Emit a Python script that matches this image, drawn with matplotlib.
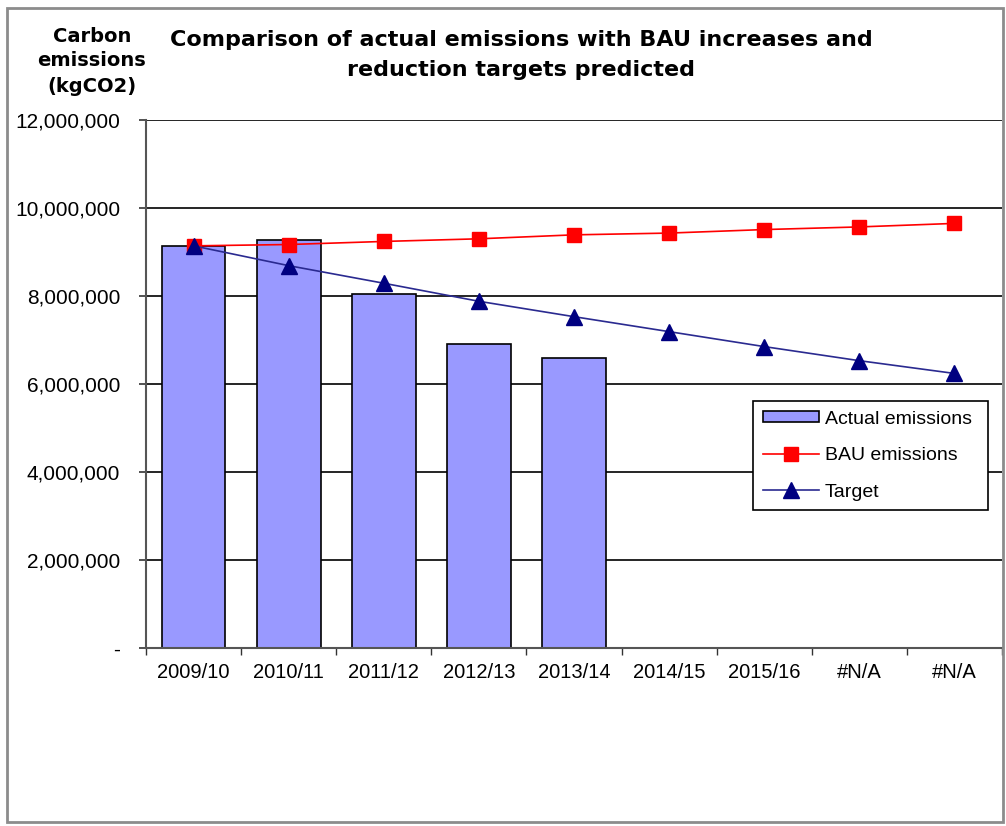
import matplotlib
matplotlib.use("Agg")
import matplotlib.pyplot as plt
import numpy as np
from matplotlib.ticker import FuncFormatter, FixedLocator
from matplotlib.patches import Rectangle
from matplotlib import font_manager

# Data
periods = ["2009/10", "2010/11", "2011/12", "2012/13", "2013/14",
           "2014/15", "2015/16", "#N/A", "#N/A"]
actual_emissions = [9140000, 9270000, 8040000, 6900000, 6580000]
bau_emissions = [9140000, 9170000, 9240000, 9300000, 9390000,
                 9430000, 9510000, 9570000, 9650000]
target_emissions = [9140000, 8690000, 8290000, 7880000, 7530000,
                    7190000, 6850000, 6530000, 6240000]
y_ticks = [0, 2000000, 4000000, 6000000, 8000000, 10000000, 12000000]

available = {f.name for f in font_manager.fontManager.ttflist}
base_font = "Liberation Sans" if "Liberation Sans" in available else "DejaVu Sans"
plt.rcParams["font.family"] = [base_font, "DejaVu Sans"]

W, H = 1006, 826
fig = plt.figure(figsize=(W / 100, H / 100), dpi=100)
fig.patch.set_facecolor("white")

# outer chart frame
fig.patches.append(Rectangle((7 / W, 1 - 822 / H), (1003 - 7) / W, (822 - 8) / H,
                             transform=fig.transFigure, fill=False,
                             edgecolor="#8c8c8c", linewidth=2.0, zorder=0))

ax = fig.add_axes([146 / W, 1 - 648 / H, 856 / W, 528 / H])
x = np.arange(len(periods))

ax.set_ylim(0, 12000000)
ax.set_xlim(-0.5, len(periods) - 0.5)

for t in y_ticks[1:]:
    ax.axhline(t, color="black", linewidth=1.2, zorder=1)

bars = ax.bar(x[:len(actual_emissions)], actual_emissions, width=0.67,
              color="#9999FF", edgecolor="black", linewidth=1.2, zorder=2,
              label="Actual emissions")
bau_line, = ax.plot(x, bau_emissions, color="#FF0000", linewidth=1.2, marker="s",
                    markersize=10, markerfacecolor="#FF0000",
                    markeredgecolor="#FF0000", zorder=3, label="BAU emissions")
target_line, = ax.plot(x, target_emissions, color="#2a2a90", linewidth=1.2,
                       marker="^", markersize=11, markerfacecolor="#000080",
                       markeredgecolor="#000080", zorder=4, label="Target")

for side in ["top", "right"]:
    ax.spines[side].set_visible(False)
for side in ["left", "bottom"]:
    ax.spines[side].set_color("#555555")
    ax.spines[side].set_linewidth(1.5)

ax.yaxis.set_major_locator(FixedLocator(y_ticks))
ax.yaxis.set_major_formatter(FuncFormatter(lambda v, p: "-" if v == 0 else f"{int(v):,}"))
ax.tick_params(axis="y", direction="out", length=5, width=1.2, color="#333333",
               labelsize=15, pad=13.5)

# category boundary ticks and centred labels
ax.set_xticks(np.arange(-0.5, len(periods), 1.0))
ax.set_xticklabels([])
ax.tick_params(axis="x", which="major", direction="out", length=5, width=1.0,
               color="#333333")
ax.set_xticks(x, minor=True)
ax.set_xticklabels(periods, minor=True, fontsize=14.5)
ax.tick_params(axis="x", which="minor", length=0, pad=11)

leg = ax.legend(handles=[bars, bau_line, target_line],
                labels=["Actual emissions", "BAU emissions", "Target"],
                loc="upper left", bbox_to_anchor=(607 / 856, (648 - 401) / 528,
                                                  235 / 856, 0),
                mode="expand", fontsize=14, frameon=True, fancybox=False,
                edgecolor="black", framealpha=1, borderaxespad=0,
                handlelength=2.9, handleheight=0.5, labelspacing=1.0,
                handletextpad=0.3, borderpad=0.5)
leg.get_frame().set_linewidth(1.2)
leg.set_zorder(5)

fig.text(521 / W, 1 - 40 / H, "Comparison of actual emissions with BAU increases and",
         ha="center", va="center", fontsize=16, fontweight="bold",
         family="DejaVu Sans")
fig.text(521 / W, 1 - 70 / H, "reduction targets predicted",
         ha="center", va="center", fontsize=16, fontweight="bold",
         family="DejaVu Sans")
fig.text(92 / W, 1 - 61 / H, "Carbon\nemissions\n(kgCO2)", ha="center", va="center",
         fontsize=14, fontweight="bold", linespacing=1.4, family="DejaVu Sans")

fig.savefig("out.png", dpi=100, facecolor="white")
